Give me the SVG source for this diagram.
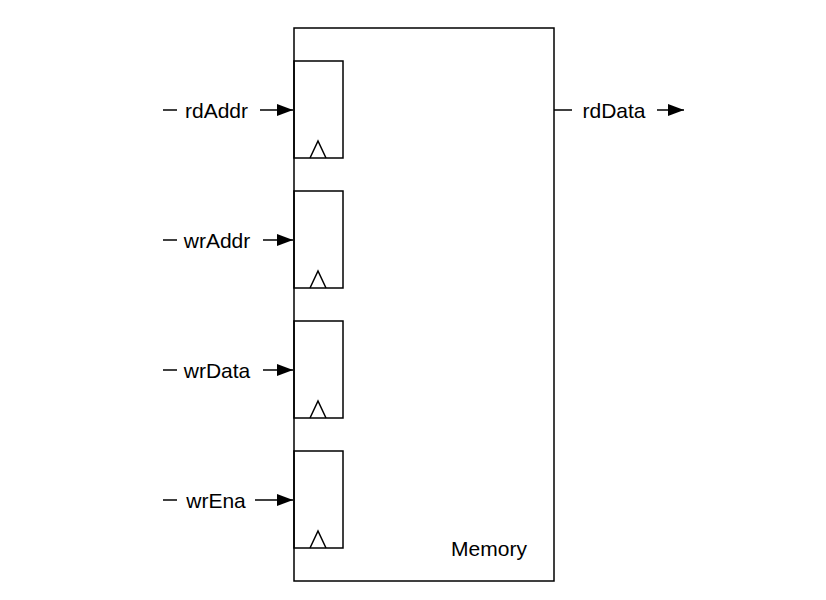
<svg xmlns="http://www.w3.org/2000/svg" width="826" height="600" viewBox="0 0 826 600">
<style>
.box{fill:none;stroke:#000;stroke-width:1.5}
.w{fill:none;stroke:#000;stroke-width:1.5}
.t{font-family:"Liberation Sans",Arial,sans-serif;font-size:21px;fill:#000;text-anchor:middle}
</style>
<defs>
<marker id="ah" markerUnits="userSpaceOnUse" markerWidth="17" markerHeight="13" refX="16" refY="6.5" orient="auto">
<polygon points="0,0.5 16,6.5 0,12.5" fill="#000"/>
</marker>
</defs>
<rect width="826" height="600" fill="#fff"/>
<g id="memory">
<rect class="box" x="294" y="28" width="260" height="553"/>
<text class="t" x="489" y="556">Memory</text>
</g>
<g id="reg_rdAddr">
<rect class="box" x="294" y="61" width="49" height="97"/>
<polyline class="box" points="310,158 318,141 326,158"/>
</g>
<g id="reg_wrAddr">
<rect class="box" x="294" y="191" width="49" height="97"/>
<polyline class="box" points="310,288 318,271 326,288"/>
</g>
<g id="reg_wrData">
<rect class="box" x="294" y="321" width="49" height="97"/>
<polyline class="box" points="310,418 318,401 326,418"/>
</g>
<g id="reg_wrEna">
<rect class="box" x="294" y="451" width="49" height="97"/>
<polyline class="box" points="310,548 318,531 326,548"/>
</g>
<g id="labels">
<text class="t" x="216.5" y="117.5">rdAddr</text>
<text class="t" x="217" y="247.5">wrAddr</text>
<text class="t" x="217" y="377.5">wrData</text>
<text class="t" x="216" y="507.5">wrEna</text>
<text class="t" x="614" y="117.5">rdData</text>
</g>
<g id="connectors">
<line class="w" x1="163" y1="110" x2="177" y2="110"/>
<line class="w" x1="260" y1="110" x2="293" y2="110" marker-end="url(#ah)"/>
<line class="w" x1="163" y1="240" x2="177" y2="240"/>
<line class="w" x1="263" y1="240" x2="293" y2="240" marker-end="url(#ah)"/>
<line class="w" x1="163" y1="370" x2="177" y2="370"/>
<line class="w" x1="263" y1="370" x2="293" y2="370" marker-end="url(#ah)"/>
<line class="w" x1="163" y1="500" x2="177" y2="500"/>
<line class="w" x1="255" y1="500" x2="293" y2="500" marker-end="url(#ah)"/>
<line class="w" x1="554" y1="110" x2="572" y2="110"/>
<line class="w" x1="657" y1="110" x2="684" y2="110" marker-end="url(#ah)"/>
</g>
</svg>
